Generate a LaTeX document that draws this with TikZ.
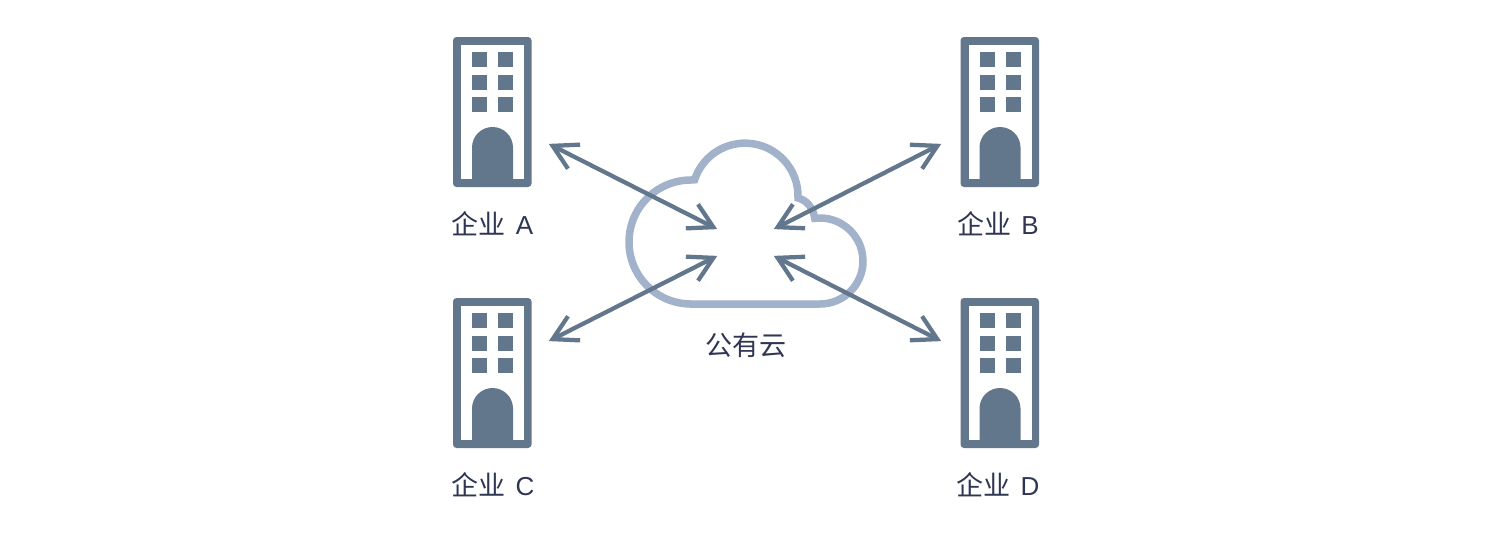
\documentclass[tikz,border=0pt]{standalone}
\usepackage{fontspec}
\usepackage{xcolor}
\setmainfont{Liberation Sans}
\newfontfamily\cjk[Scale=1.04]{Noto Sans CJK SC}
\usetikzlibrary{arrows.meta}
\definecolor{slate}{HTML}{62768C}
\definecolor{cloudblue}{HTML}{A2B2CB}
\definecolor{inkblue}{HTML}{2F3654}
\tikzset{
  caption/.style={text=inkblue,inner sep=0pt,font=\fontsize{14.8pt}{18pt}\selectfont},
  link/.style={draw=slate,line width=.085cm,
    {Straight Barb[length=.48cm,width=.54cm]}-{Straight Barb[length=.48cm,width=.54cm]}},
  building/.pic={
    \fill[slate,rounded corners=.07cm] (0,0) rectangle (78.5,150);
    \fill[white] (8,8) rectangle (71,142);
    \foreach \x in {19,45}
      \foreach \y in {15,38,60}
        \fill[slate] (\x,\y) rectangle +(15,15);
    \fill[slate] (19,142) -- (19,110.5) arc[start angle=180,end angle=360,radius=20.5] -- (60,142) -- cycle;
  }
}
\begin{document}
\begin{tikzpicture}[x=.02cm,y=-.02cm]
\useasboundingbox (0,0) rectangle (1492,541);
\fill[white] (0,0) rectangle (1492,541);
% buildings
\pic at (453,37) {building};
\pic at (960.5,37) {building};
\pic at (453,298) {building};
\pic at (960.5,298) {building};
% cloud
\draw[cloudblue,line width=.15cm,miter limit=10] (690,304) -- (820,304)
  arc[start angle=90,end angle=-97,radius=43]
  .. controls (813,207) and (806,200) .. (798,198)
  arc[start angle=2,end angle=-162,radius=53]
  -- (691,180)
  arc[start angle=-90,end angle=-270,radius=62] -- cycle;
% labels
\node[caption] at (492.5,224) (labela) {{\cjk 企业}\hspace{.38em}A};
\node[caption] at (998,224) (labelb) {{\cjk 企业}\hspace{.38em}B};
\node[caption] at (493,485) (labelc) {{\cjk 企业}\hspace{.38em}C};
\node[caption] at (998,485) (labeld) {{\cjk 企业}\hspace{.38em}D};
\node[caption] at (746,345) (labelcloud) {\cjk 公有云};
% ends of the arrows
\coordinate (enda) at (548.8,143.9);
\coordinate (endb) at (941.2,143.9);
\coordinate (endc) at (548.8,341.1);
\coordinate (endd) at (941.2,341.1);
\coordinate (clouda) at (717.2,229.1);
\coordinate (cloudb) at (773.8,229.1);
\coordinate (cloudc) at (717.2,255.9);
\coordinate (cloudd) at (773.8,255.9);
\draw[link] (enda) -- (clouda);
\draw[link] (endb) -- (cloudb);
\draw[link] (endc) -- (cloudc);
\draw[link] (endd) -- (cloudd);
\end{tikzpicture}
\end{document}
